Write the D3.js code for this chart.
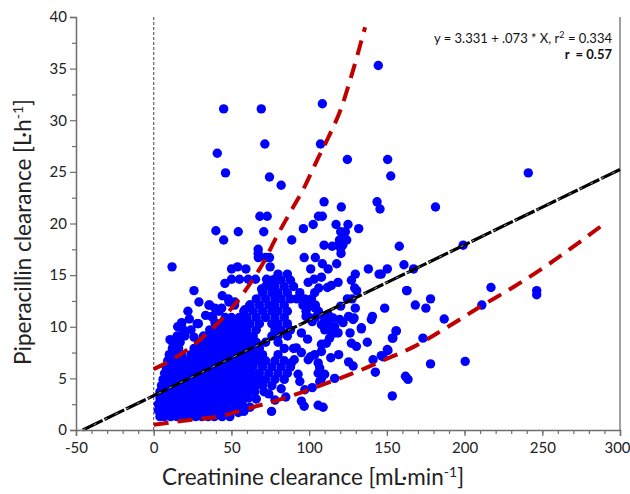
<!DOCTYPE html>
<meta charset="utf-8">
<style>
body { margin: 0; background: #fff; }
.tick text { font-family: Lato, "Open Sans", sans-serif; font-size: 15px; fill: #222; }
.axisTitle { font-family: Lato, "Open Sans", sans-serif; font-size: 22.5px; fill: #222; }
.eq { font-family: Lato, "Open Sans", sans-serif; font-size: 13px; fill: #111; }
</style>
<body>
<script src="https://d3js.org/d3.v7.min.js"></script>
<script>
const width = 630, height = 494;
const margin = {top: 17, right: 10, bottom: 64, left: 76};

// x ticks / y ticks
const xTicks = [-50, 0, 50, 100, 150, 200, 250, 300];
const yTicks = [0, 5, 10, 15, 20, 25, 30, 35, 40];

// regression: y = 3.331 + .073 * X
const regA = 3.331, regB = 0.073;

// dense core of the cloud, one row per clearance level: [y, [x...]]
const coreRows = [
  [1.3, [4, 7, 11, 15, 19, 23, 27, 31, 35, 39, 44, 49]],
  [1.9, [3, 6, 10, 14, 18, 22, 26, 30, 34, 38, 42, 46, 51, 55]],
  [2.5, [3, 7, 11, 15, 19, 23, 27, 31, 35, 39, 43, 47, 52, 57]],
  [3.1, [4, 8, 12, 16, 20, 24, 28, 32, 36, 40, 44, 48, 52, 56, 61]],
  [3.7, [4, 8, 12, 16, 20, 24, 28, 32, 36, 40, 44, 48, 52, 56, 60, 65, 71]],
  [4.3, [5, 9, 13, 17, 21, 25, 29, 33, 37, 41, 45, 49, 53, 57, 61, 66, 70, 76]],
  [4.9, [6, 10, 14, 18, 22, 26, 30, 34, 38, 42, 46, 50, 54, 58, 62, 67, 72, 78, 84]],
  [5.5, [7, 11, 15, 19, 23, 27, 31, 35, 39, 43, 47, 51, 55, 59, 63, 68, 74, 80, 86]],
  [6.1, [8, 12, 16, 20, 24, 28, 32, 36, 40, 44, 48, 52, 56, 60, 64, 70, 76, 82, 88]],
  [6.7, [9, 13, 17, 21, 25, 29, 33, 37, 41, 45, 49, 53, 57, 62, 67, 72, 78, 84]],
  [7.3, [10, 14, 18, 24, 28, 32, 36, 40, 44, 48, 52, 56, 60, 65, 70, 80]],
  [7.9, [12, 16, 26, 30, 34, 38, 42, 46, 50, 54, 58, 63, 68, 84, 90]],
  [8.5, [13, 17, 29, 33, 37, 41, 45, 49, 53, 57, 61, 66, 72, 80]],
  [9.1, [15, 20, 32, 36, 40, 44, 48, 52, 56, 60, 64, 76, 80, 86]],
  [9.7, [19, 24, 36, 40, 44, 48, 52, 56, 60, 66, 78, 82, 88]],
  [10.3, [18, 28, 40, 44, 48, 52, 57, 62, 68, 76, 80, 86]],
  [10.9, [38, 46, 50, 55, 60, 66, 72, 78, 84, 100, 104]],
  [11.5, [22, 42, 58, 64, 70, 76, 80, 86, 98, 106]],
  [12.1, [36, 52, 62, 68, 74, 78, 84, 96, 104]],
  [12.7, [48, 66, 72, 78, 82, 88, 92]],
  [13.3, [70, 76, 80, 86, 94]],
  [13.9, [72, 78, 84, 90]],
  [14.5, [76, 82, 88]],
  [15.1, [80, 86]]
];

// scattered patients outside the core: [creatinine clearance, piperacillin clearance]
const spread = [
  [45, 31.1], [69.2, 31.1], [108.5, 31.6], [40.9, 26.8], [71.5, 27.7], [107.3, 27.7], [46.2, 24.9],
  [74.5, 24.5], [82, 23.7], [124.6, 26.2], [150.5, 26.2], [152.5, 24.6], [144.5, 35.3], [241, 24.9],
  [109.6, 22.1], [120.7, 21.6], [143.7, 22.1], [145.6, 21.4], [68.3, 20.7], [73, 20.7], [106, 20.7],
  [108.5, 20.7], [102.6, 19.9], [117.3, 19.9], [125, 19.9], [96.3, 19.5], [131.9, 19.5], [40, 19.3],
  [54.4, 19.2], [70.8, 19.2], [45, 18.4], [88.8, 18.4], [120.3, 19.2], [123.3, 19.2], [119.5, 18.4],
  [124.2, 18.4], [122.4, 18.7], [118.6, 17.9], [109.6, 17.9], [114.8, 17.8], [120.3, 17.6], [121.6, 17.9],
  [120.5, 17.1], [67.2, 17.5], [67.2, 17.1], [72, 16.7], [74.5, 16.7], [96.8, 16.7], [104, 16.7],
  [181.3, 21.6], [158, 17.8], [199.1, 17.9], [150.3, 15.6], [161, 16], [167.2, 15.6], [146.4, 15.1],
  [163, 13.5], [148.6, 11.8], [168.3, 12.1], [175.1, 11.8], [178.1, 12.7], [217, 13.8], [211.1, 12.1],
  [246.4, 13.5], [246.4, 13.1], [186.9, 10.75], [155.9, 9.6], [153.5, 8.9], [150.3, 7.8], [146.4, 7.2],
  [173.2, 8.9], [178.1, 6.4], [200.4, 6.65], [162, 5.2], [163.6, 4.9], [153.5, 3.3],
  [108.5, 16.1], [112.2, 15.6], [117.7, 16.1], [101, 15.6], [107.9, 14.8], [103.2, 14.6], [99.4, 14.3],
  [118.6, 14.3], [114.3, 14], [111.8, 13.8], [106.2, 13.75], [103.6, 13.3], [101.5, 12.7], [97.2, 12.7],
  [129.7, 15.1], [127.2, 14.5], [129.3, 13.75], [130.6, 13.5], [138.1, 15.6], [145, 15.1], [162.7, 13.5],
  [140.7, 11], [133.6, 9.9], [124.6, 12.7], [127.6, 12.7], [120.3, 12], [129.7, 11.8], [125.4, 11],
  [128.9, 10.85], [112.2, 11.2], [109.6, 10.95], [115.4, 10.85], [119.7, 10.7], [121.8, 10.4], [116.4, 10],
  [107.9, 10.2], [95, 9.4], [99, 8.8], [91.8, 7.95], [95, 7.5], [88.6, 6.5], [90.4, 6.8], [92.9, 5.4],
  [94, 4.7], [97.2, 3.9], [102, 4.1], [96.8, 2.3], [105.8, 2.4], [109, 2.2], [99.4, 6.8], [101, 7.1],
  [103.6, 7.3], [105.8, 6.5], [106.8, 6], [105.8, 5.5], [107.9, 5], [106.8, 4.7], [110, 5.4], [116.4, 5],
  [107.9, 7.6], [107.9, 8.3], [111.1, 8.4], [113.2, 8.9], [116.4, 9.4], [118.6, 9.4], [113.9, 9.7],
  [110, 9.7], [110, 10.4], [112.2, 10.5], [128.3, 10.7], [140, 10.7], [113.9, 7], [119, 7.3],
  [126.3, 9.4], [127.2, 8.4], [130.4, 8.1], [133.6, 9.8], [137.4, 8.5], [125.4, 6.6], [128.3, 6.2],
  [141.1, 6.8], [142.6, 5.6], [147.5, 7.1], [150.7, 7.7], [153.9, 8.9], [156.1, 9.6], [75.8, 1.8], [54.4, 1.7],
  [11.8, 15.8], [50.1, 15.6], [53.9, 15.8], [59.3, 15.6], [50.1, 14.6], [55.2, 14.6], [60.8, 14.6],
  [65.5, 14.6], [45.8, 14.2], [25.9, 13.5], [44.1, 13], [29.1, 12.4], [72.6, 14.6], [77.9, 14.6],
  [69.4, 13.65], [75.8, 13.75], [48.4, 12.4], [52.2, 12.4], [35.5, 12.1], [39.4, 11.8], [43.7, 11.8],
  [33.4, 11.1], [37.3, 11], [22.9, 10.75], [18, 10.4], [15.4, 10], [39.4, 10.4], [28.7, 10.3],
  [58.6, 11.65], [61.8, 12.1], [67.3, 16.7], [74.9, 15.8], [10.5, 8.75], [12.6, 8.3], [14.8, 7.8],
  [25.9, 9], [74, 3.5], [78, 2.9], [82, 4], [85, 3.2], [62, 2.2], [66, 3], [58, 1.8], [95, 2.8],
  [98, 11], [102, 10.5], [104, 11.8], [100, 12]
];

// red dashed bounds
const upperBound = [[0, 5.9], [11.6, 6.8], [24.4, 8.1], [38.3, 9.9], [50.1, 11.8], [60.8, 13.9], [70.5, 16.2],
  [79, 18.7], [87.5, 21.0], [97.2, 23.6], [104.7, 26], [113.2, 28.6], [120.7, 31.2], [127, 34.2], [136, 39]];
const lowerBound = [[0, 0.5], [24.4, 1.0], [41.5, 1.3], [58.6, 2.0], [80, 2.9], [97.2, 3.75], [114.3, 4.7],
  [131.5, 5.7], [148.6, 6.8], [167.8, 8.1], [189.3, 10], [210.7, 12], [232, 13.9], [253.5, 16],
  [274.9, 18.3], [291, 20.1]];

const svg = d3.select('body').append('svg')
  .attr('width', width).attr('height', height);

const x = d3.scaleLinear().domain([-50, 300]).range([margin.left, width - margin.right]);
const y = d3.scaleLinear().domain([0, 40]).range([height - margin.bottom, margin.top]);

// right frame line
svg.append('line')
  .attr('x1', x(300)).attr('x2', x(300)).attr('y1', y(40)).attr('y2', y(0))
  .attr('stroke', '#6e6e6e').attr('stroke-width', 1.3);

// vertical dashed line at 0
svg.append('line')
  .attr('x1', x(0)).attr('x2', x(0)).attr('y1', y(40)).attr('y2', y(0))
  .attr('stroke', '#555').attr('stroke-width', 1.1).attr('stroke-dasharray', '3,2');

// points
const points = [];
coreRows.forEach(function (r) { r[1].forEach(function (v) { points.push([v, r[0]]); }); });
spread.forEach(function (p) { points.push(p); });

svg.append('g').selectAll('circle')
  .data(points)
  .enter().append('circle')
  .attr('cx', function (d) { return x(d[0]); })
  .attr('cy', function (d) { return y(d[1]); })
  .attr('r', 4.7)
  .attr('fill', '#0000ff');

// regression line: black with faint white specks
const x0 = -regA / regB;
svg.append('line')
  .attr('x1', x(x0)).attr('y1', y(0))
  .attr('x2', x(300)).attr('y2', y(regA + regB * 300))
  .attr('stroke', '#000').attr('stroke-width', 3.2)
  .attr('stroke-dasharray', '22,2');
svg.append('line')
  .attr('x1', x(x0)).attr('y1', y(0))
  .attr('x2', x(300)).attr('y2', y(regA + regB * 300))
  .attr('stroke', '#ddd').attr('stroke-width', 0.7)
  .attr('stroke-dasharray', '3,9');

const line = d3.line()
  .x(function (d) { return x(d[0]); })
  .y(function (d) { return y(d[1]); })
  .curve(d3.curveMonotoneX);

[upperBound, lowerBound].forEach(function (b) {
  svg.append('path')
    .attr('d', line(b))
    .attr('fill', 'none')
    .attr('stroke', '#c00000')
    .attr('stroke-width', 4)
    .attr('stroke-dasharray', '15,9');
});

// axes
const gx = svg.append('g')
  .attr('transform', 'translate(0,' + y(0) + ')')
  .call(d3.axisBottom(x).tickValues(xTicks).tickSize(6).tickFormat(function (d) { return String(d); }));
svg.append('g')
  .attr('transform', 'translate(0,' + y(0) + ')')
  .call(d3.axisBottom(x).tickValues(d3.range(-40, 300, 10)).tickSize(4).tickFormat(''))
  .call(function (g) { g.select('.domain').remove(); });

const gy = svg.append('g')
  .attr('transform', 'translate(' + x(-50) + ',0)')
  .call(d3.axisLeft(y).tickValues(yTicks).tickSize(6).tickFormat(function (d) { return String(d); }));
svg.append('g')
  .attr('transform', 'translate(' + x(-50) + ',0)')
  .call(d3.axisLeft(y).tickValues(d3.range(2.5, 40, 5)).tickSize(4).tickFormat(''))
  .call(function (g) { g.select('.domain').remove(); });

svg.selectAll('.domain').attr('stroke', '#6e6e6e').attr('stroke-width', 1.5);
svg.selectAll('.tick line').attr('stroke', '#6e6e6e').attr('stroke-width', 1.2);
gx.selectAll('.tick text').attr('dy', '0.95em')
  .attr('dx', function (d) { return d === 300 ? -3 : 0; });
gy.selectAll('.tick text').attr('x', -9);

// titles
const xt = svg.append('text').attr('class', 'axisTitle')
  .attr('x', 313).attr('y', 485).attr('text-anchor', 'middle');
xt.append('tspan').text('Creatinine clearance [mL·min');
xt.append('tspan').attr('dy', -8).attr('font-size', 14).text('-1');
xt.append('tspan').attr('dy', 8).text(']');

const yt = svg.append('text').attr('class', 'axisTitle')
  .attr('transform', 'translate(31,232) rotate(-90)').attr('text-anchor', 'middle');
yt.append('tspan').text('Piperacillin clearance [L·h');
yt.append('tspan').attr('dy', -8).attr('font-size', 14).text('-1');
yt.append('tspan').attr('dy', 8).text(']');

// equation
const eq = svg.append('text').attr('class', 'eq')
  .attr('x', 612).attr('y', 43).attr('text-anchor', 'end');
eq.append('tspan').text('y = 3.331 + .073 * X, r');
eq.append('tspan').attr('dy', -5).attr('font-size', 9).text('2');
eq.append('tspan').attr('dy', 5).text(' = 0.334');
svg.append('text').attr('class', 'eq')
  .attr('x', 612).attr('y', 59).attr('text-anchor', 'end')
  .attr('font-weight', 'bold').attr('xml:space', 'preserve')
  .text('r  = 0.57');
</script>
</body>
